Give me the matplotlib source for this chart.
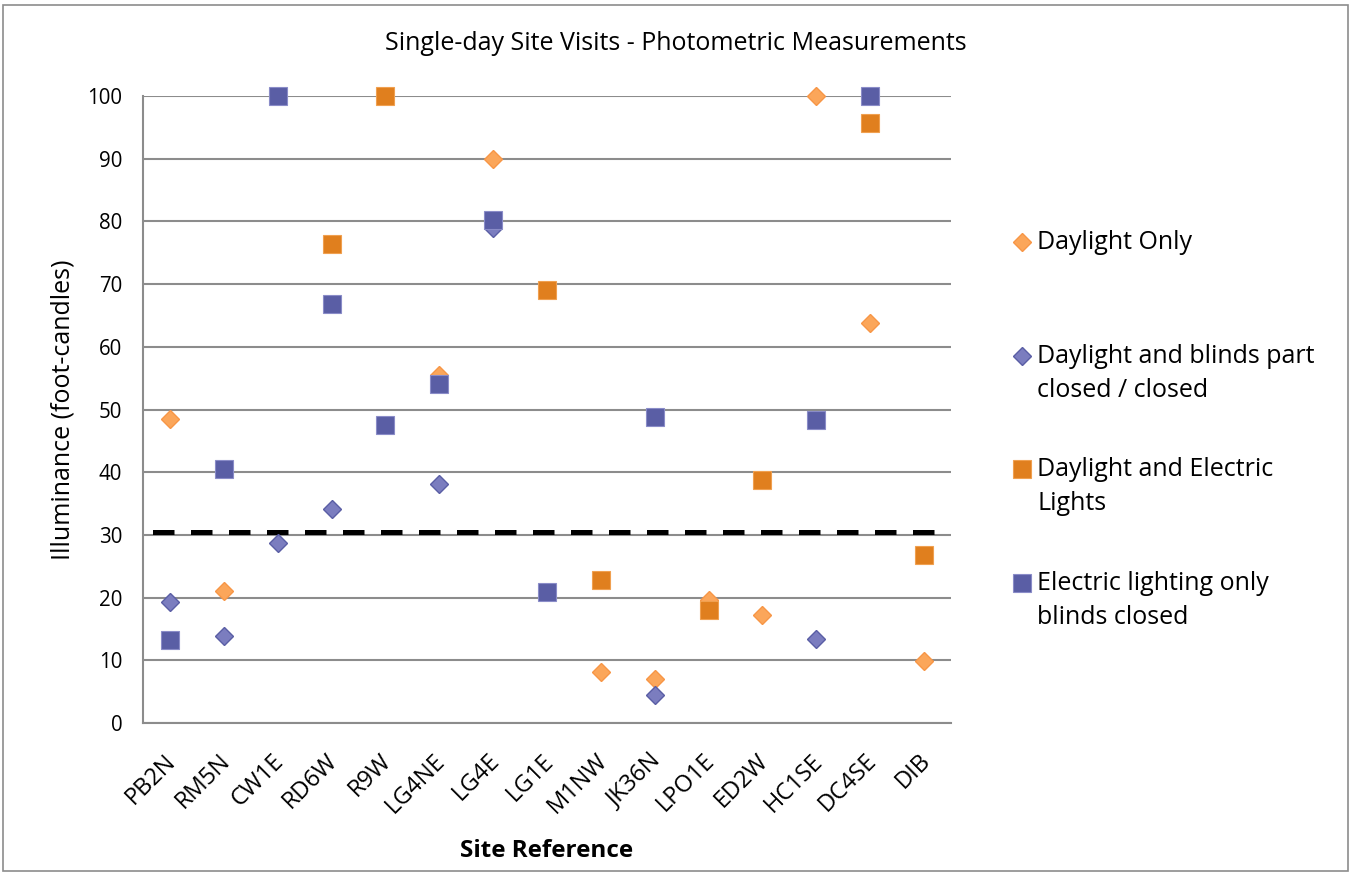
import matplotlib.pyplot as plt
import matplotlib.patches as patches
import matplotlib.transforms as mtransforms
from matplotlib.lines import Line2D
import numpy as np

plt.rcParams['font.family'] = ['Open Sans', 'DejaVu Sans']

sites = ['PB2N', 'RM5N', 'CW1E', 'RD6W', 'R9W', 'LG4NE', 'LG4E', 'LG1E',
         'M1NW', 'JK36N', 'LPO1E', 'ED2W', 'HC1SE', 'DC4SE', 'DIB']

# illuminance in foot-candles, NaN where a site had no reading
daylight_only = [48.5, 21.0, np.nan, np.nan, np.nan, 55.5, 90.0, np.nan,
                 8.1, 7.0, 19.6, 17.2, 100.0, 63.8, 9.9]
daylight_blinds = [19.3, 13.9, 28.7, 34.1, np.nan, 38.1, 79.0, np.nan,
                   np.nan, 4.5, np.nan, np.nan, 13.4, np.nan, np.nan]
daylight_electric = [np.nan, np.nan, np.nan, 76.4, 100.0, np.nan, np.nan, 69.1,
                     22.8, np.nan, 18.0, 38.8, np.nan, 95.7, 26.8]
electric_only = [13.2, 40.5, 100.0, 66.8, 47.5, 54.1, 80.2, 20.9,
                 np.nan, 48.8, np.nan, np.nan, 48.3, 100.0, np.nan]
threshold = 30.4

series = [
    ('Daylight Only', daylight_only,
     dict(marker='D', ms=9, mfc='#FBA65A', mec='#F79646')),
    ('Daylight and blinds part\nclosed / closed', daylight_blinds,
     dict(marker='D', ms=9, mfc='#7B7DBF', mec='#5A5EA5')),
    ('Daylight and Electric\nLights', daylight_electric,
     dict(marker='s', ms=13, mfc='#E07F1E', mec='#F0A050', mew=0.8)),
    ('Electric lighting only\nblinds closed', electric_only,
     dict(marker='s', ms=13, mfc='#5A5EA5', mec='#8A8CC8', mew=0.8)),
]

W, H = 1351, 875
fig = plt.figure(figsize=(W / 100, H / 100), dpi=100)
ax = fig.add_axes([143 / W, 152 / H, 808 / W, 627 / H])

x = np.arange(len(sites))
for i, (name, vals, style) in enumerate(series):
    ax.plot(x, vals, linestyle='none', clip_on=False, zorder=3 + i, **style)

ax.axhline(threshold, color='black', lw=3.6, linestyle=(5.7, (4.3, 3.3)),
           zorder=2)

ax.set_xlim(-0.5, len(sites) - 0.5)
ax.set_ylim(0, 100)
ax.set_yticks(np.arange(0, 101, 10))
ax.yaxis.grid(True, color='#8C8C8C', lw=1.5)
ax.set_axisbelow(True)
for side in ('top', 'right'):
    ax.spines[side].set_visible(False)
for side in ('left', 'bottom'):
    ax.spines[side].set_color('#8C8C8C')
    ax.spines[side].set_linewidth(1.5)
ax.tick_params(axis='y', length=0, labelsize=14.8, pad=15)
ax.tick_params(axis='x', length=0, labelsize=17, pad=28)
ax.set_xticks(x)
ax.set_xticklabels(sites, rotation=45, ha='right', va='baseline',
                   rotation_mode='anchor')
shift = mtransforms.ScaledTranslation(7 / 100, 0, fig.dpi_scale_trans)
for lbl in ax.get_xticklabels():
    lbl.set_transform(lbl.get_transform() + shift)

ax.set_ylabel('Illuminance (foot-candles)', fontsize=18)
ax.yaxis.set_label_coords(-0.084, 0.5)
ax.set_xlabel('Site Reference', fontsize=17.5, fontweight='bold')
ax.xaxis.set_label_coords(0.5, -0.185)

fig.suptitle('Single-day Site Visits - Photometric Measurements',
             x=0.5, y=1 - 43 / H, va='center', fontsize=18)

# legend drawn on the figure so the marker sits on the first text line
legend_rows = [242, 356, 469, 583]
for (name, vals, style), row in zip(series, legend_rows):
    yf = 1 - row / H
    fig.add_artist(Line2D([1022 / W], [yf], transform=fig.transFigure,
                          linestyle='none', **style))
    fig.text(1037 / W, yf + 12 / H, name, fontsize=18, va='top',
             linespacing=1.45)

fig.add_artist(patches.Rectangle((3 / W, 4 / H), 1345 / W, 866 / H,
                                 transform=fig.transFigure, fill=False,
                                 edgecolor='#8C8C8C', lw=1.2))

fig.savefig('out.png', dpi=100)
